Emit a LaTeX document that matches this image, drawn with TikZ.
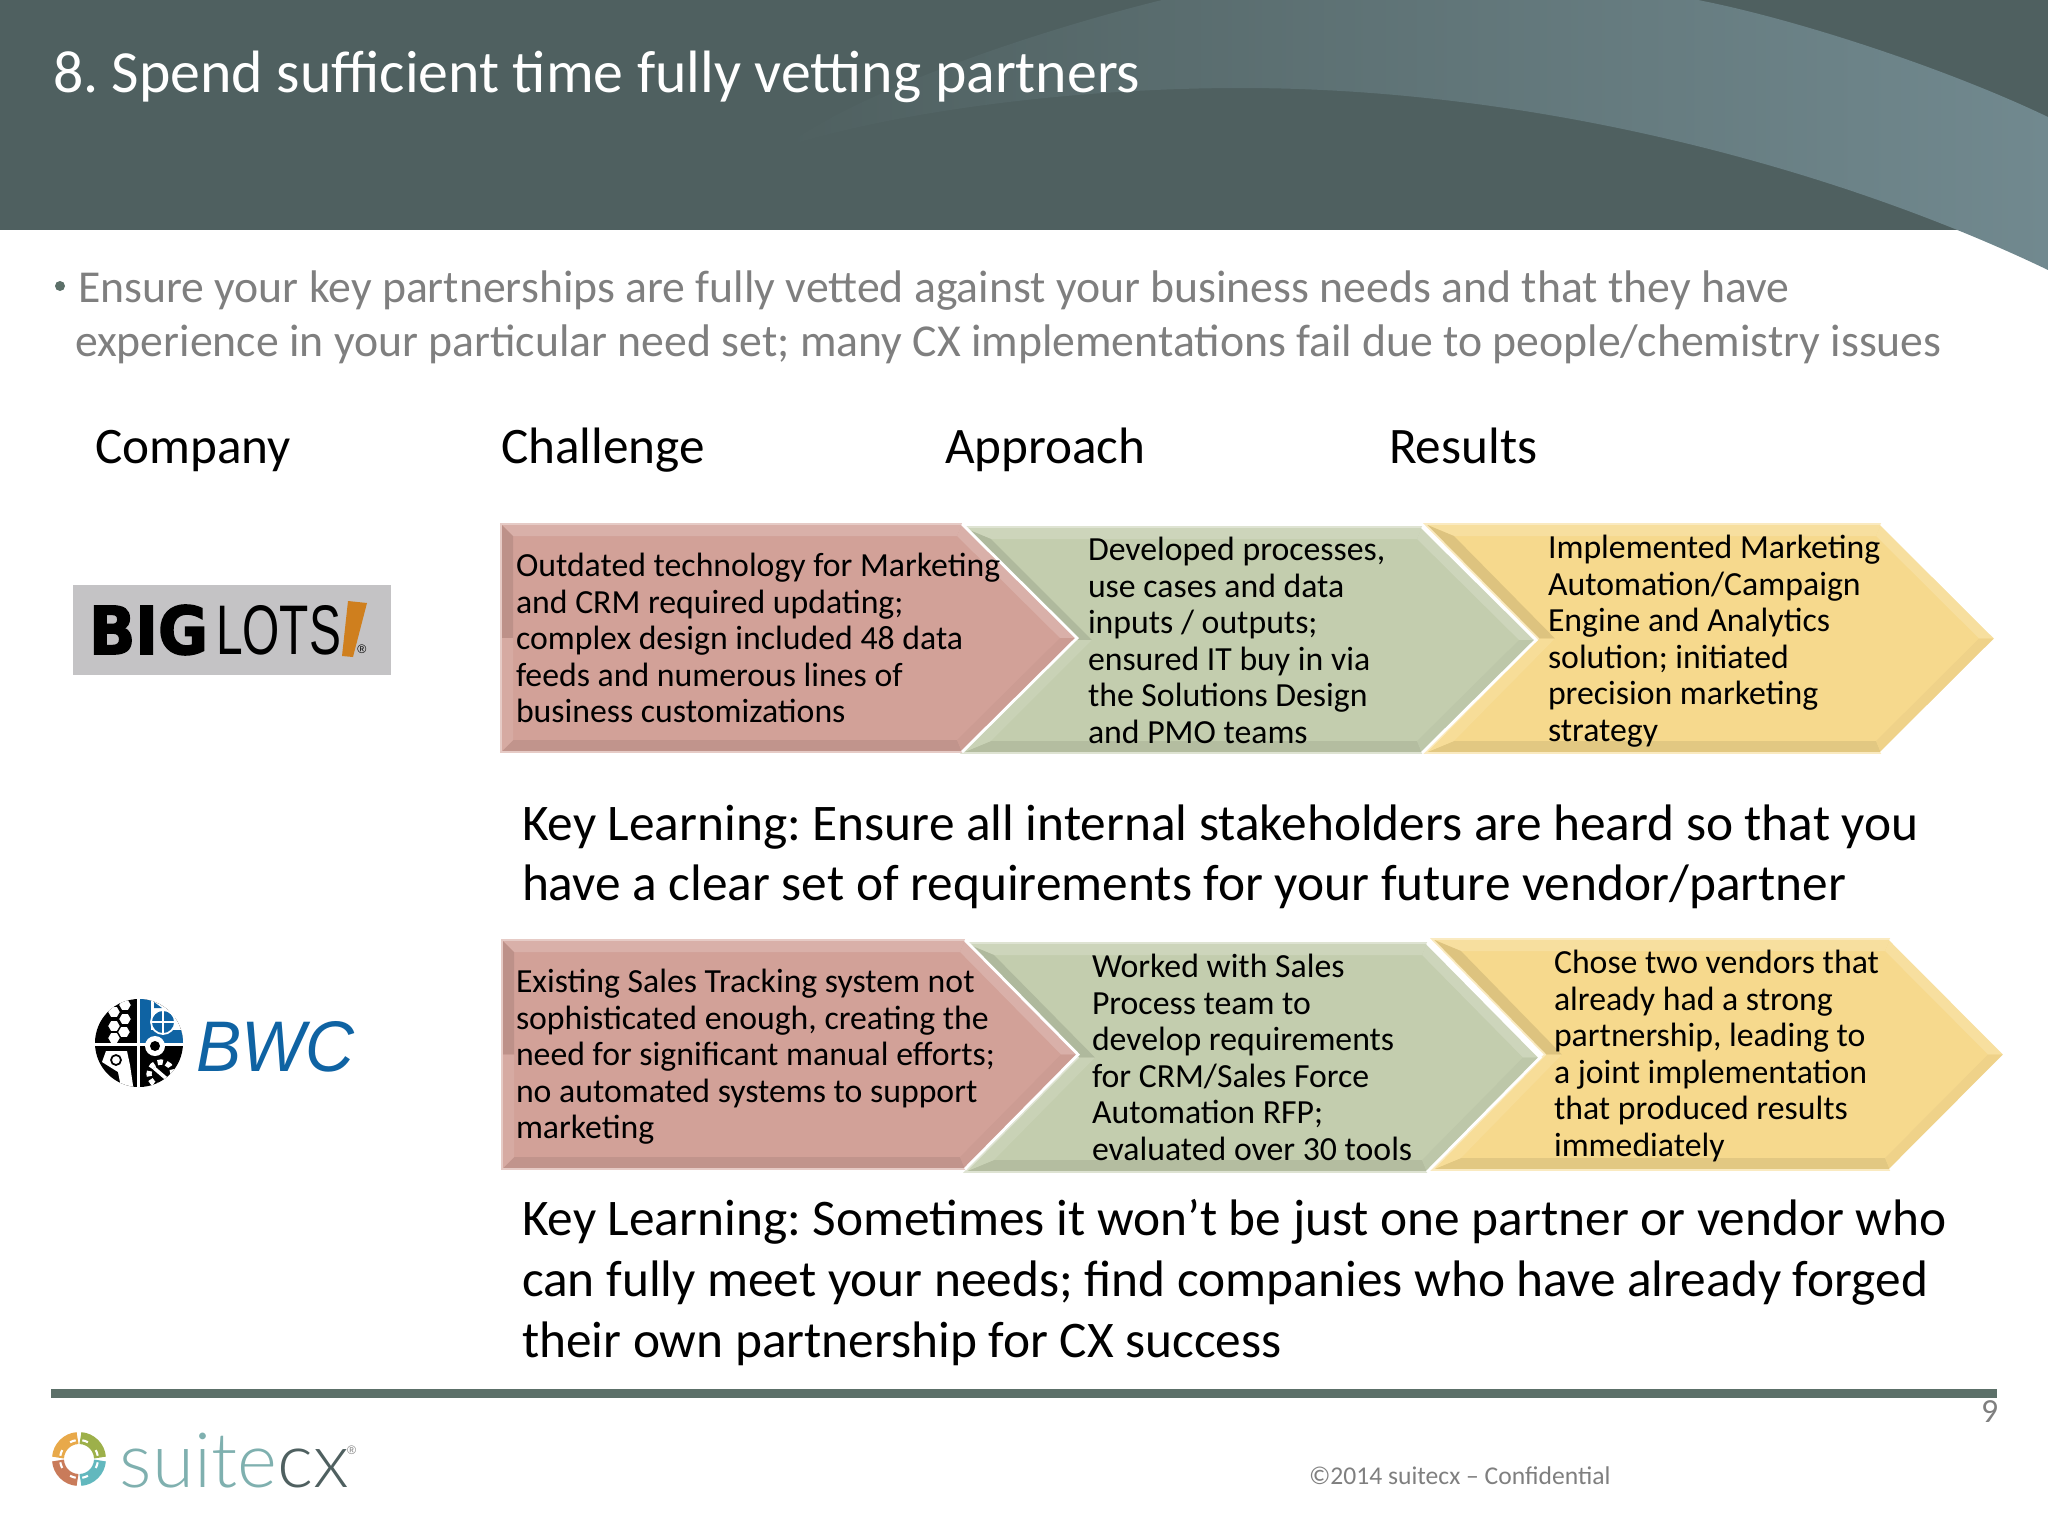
\documentclass[tikz,border=0pt]{standalone}
\usepackage{fontspec}
\usepackage{graphicx}
\setmainfont{Carlito}
\newfontfamily\heavyfont[BoldFeatures={FakeBold=2.5}]{DejaVu Sans}
\newfontfamily\plainfont{Liberation Sans}
\newfontfamily\logofont{Lato Light}
\usetikzlibrary{positioning}
\frenchspacing
\definecolor{headdark}{HTML}{4F6060}
\definecolor{headlight}{HTML}{71898F}
\definecolor{rulegreen}{HTML}{5C7069}
\definecolor{redbox}{HTML}{D2A198}
\definecolor{greenbox}{HTML}{C3CDAE}
\definecolor{yellowbox}{HTML}{F6D98D}
\definecolor{greytext}{HTML}{7F7F7F}
\definecolor{bwcblue}{HTML}{0F63A3}
\definecolor{lotsgrey}{HTML}{C4C3C5}
\definecolor{lotsorange}{HTML}{CF7F1E}
\definecolor{suiteteal}{HTML}{7FB0AF}
\tikzset{
  plain/.style={inner sep=0,outer sep=0,anchor=north west},
  baseplain/.style={inner sep=0,outer sep=0,anchor=base west},
  slidetitle/.style={baseplain,text=white,font=\fontsize{17}{20}\selectfont},
  bullettext/.style={baseplain,text=greytext,font=\fontsize{13}{15}\selectfont},
  colhead/.style={baseplain,text=black,font=\fontsize{14.56}{17}\selectfont},
  boxtext/.style={plain,align=left,text=black,font=\fontsize{9.6}{10.4}\selectfont},
  keytext/.style={plain,align=left,text=black,font=\fontsize{14.6}{17.1}\selectfont},
  foottext/.style={plain,text=greytext,font=\fontsize{7.28}{8}\selectfont}
}
\newcommand{\chevronbox}[7]{%
  \pgfmathsetmacro{\ymid}{(#5+#6)/2}
  \fill[#7] (#1,#5) -- (#3,#5) -- (#4,\ymid) -- (#3,#6) -- (#1,#6) -- (#2,\ymid) -- cycle;
  \pgfmathsetmacro{\bev}{12}
  \pgfmathsetmacro{\inl}{#2>#1 ? #1+2.41*\bev : #1+\bev}
  \pgfmathsetmacro{\inn}{#2>#1 ? #2+1.41*\bev : #1+\bev}
  \pgfmathsetmacro{\ins}{#3-0.41*\bev}
  \pgfmathsetmacro{\inq}{#4-1.41*\bev}
  \fill[#7!84!white] (#1,#5) -- (#3,#5) -- (\ins,#5+\bev) -- (\inl,#5+\bev) -- cycle;
  \fill[#7!92!black] (#1,#6) -- (#3,#6) -- (\ins,#6-\bev) -- (\inl,#6-\bev) -- cycle;
  \fill[#7!90!black] (#1,#5) -- (#2,\ymid) -- (\inn,\ymid) -- (\inl,#5+\bev) -- cycle;
  \fill[#7!90!white] (#1,#6) -- (#2,\ymid) -- (\inn,\ymid) -- (\inl,#6-\bev) -- cycle;
  \fill[#7!84!white] (#3,#5) -- (#4,\ymid) -- (\inq,\ymid) -- (\ins,#5+\bev) -- cycle;
  \fill[#7!97!black] (#3,#6) -- (#4,\ymid) -- (\inq,\ymid) -- (\ins,#6-\bev) -- cycle;
  \draw[#7!55!white,line width=0.5pt] (#3,#6) -- (#1,#6) -- (#2,\ymid) -- (#1,#5) -- (#3,#5);
  \draw[white,line width=0.8pt] (#3,#5) -- (#4,\ymid) -- (#3,#6);
}
\begin{document}
\begin{tikzpicture}[x=0.01cm,y=-0.01cm]
\useasboundingbox (0,0) rectangle (2048,1536);

\fill[headdark] (0,0) rectangle (2048,230);
\shade[left color=headdark,right color=headlight]
(784,147) .. controls (860,90) and (1040,30) .. (1162,0) -- (1698,0)
.. controls (1800,20) and (1950,70) .. (2048,117) -- (2048,270)
.. controls (1840,170) and (1540,88) .. (1241,88)
.. controls (1080,88) and (900,110) .. (784,147) -- cycle;

\node (title) [slidetitle] at (53,92) {8. Spend sufficient time fully vetting partners};
\fill[rulegreen] (60,286) circle (5);
\node (bulletone) [bullettext] at (78,302) {Ensure your key partnerships are fully vetted against your business needs and that they have};
\node (bullettwo) [bullettext] at (75,356) {experience in your particular need set; many CX implementations fail due to people/chemistry issues};

\node (company) [colhead] at (95,463) {Company};
\node (challenge) [colhead] at (501,463) {Challenge};
\node (approach) [colhead] at (945,463) {Approach};
\node (results) [colhead] at (1389,463) {Results};

\chevronbox{1425}{1538}{1881}{1996}{524}{753}{yellowbox}
\chevronbox{962}{1075}{1422}{1536}{527}{753}{greenbox}
\chevronbox{501}{501}{962}{1077}{524}{752}{redbox}
\chevronbox{1432}{1545}{1890}{2005}{939}{1170}{yellowbox}
\chevronbox{965}{1078}{1427}{1540}{943}{1172}{greenbox}
\chevronbox{502}{502}{965}{1078}{940}{1169}{redbox}

\node (redone) [boxtext] at (516,553) {Outdated technology for Marketing\\and CRM required updating;\\complex design included 48 data\\feeds and numerous lines of\\business customizations};
\node (greenone) [boxtext] at (1088,537) {Developed processes,\\use cases and data\\inputs / outputs;\\ensured IT buy in via\\the Solutions Design\\and PMO teams};
\node (yellowone) [boxtext] at (1548,535) {Implemented Marketing\\Automation/Campaign\\Engine and Analytics\\solution; initiated\\precision marketing\\strategy};
\node (redtwo) [boxtext] at (516,969) {Existing Sales Tracking system not\\sophisticated enough, creating the\\need for significant manual efforts;\\no automated systems to support\\marketing};
\node (greentwo) [boxtext] at (1092,954) {Worked with Sales\\Process team to\\develop requirements\\for CRM/Sales Force\\Automation RFP;\\evaluated over 30 tools};
\node (yellowtwo) [boxtext] at (1554,950) {Chose two vendors that\\already had a strong\\partnership, leading to\\a joint implementation\\that produced results\\immediately};

\node (keyone) [keytext] at (522,805) {Key Learning: Ensure all internal stakeholders are heard so that you\\have a clear set of requirements for your future vendor/partner};
\node (keytwo) [keytext,font=\fontsize{14.6}{17.4}\selectfont] at (522,1199) {Key Learning: Sometimes it won’t be just one partner or vendor who\\can fully meet your needs; find companies who have already forged\\their own partnership for CX success};

\fill[lotsgrey] (73,585) rectangle (391,675);
\node (big) [plain] at (89,605) {\resizebox{1.19cm}{0.49cm}{\heavyfont\bfseries BIG}};
\node (lots) [plain,right=0.08cm of big] {\resizebox{1.25cm}{0.49cm}{\plainfont LOTS}};
\fill[lotsorange] (342,656) -- (353,657) -- (367,603) -- (348,601) -- cycle;
\node (regmark) [plain,anchor=center,font=\fontsize{3.5}{4}\selectfont] at (362,649) {\plainfont ®};

\begin{scope}
\clip (139,1043) circle (44);
\fill[black] (90,995) rectangle (190,1092);
\fill[white] (137,995) rectangle (190,1045);
\fill[bwcblue] (140,995) rectangle (151,1043);
\fill[bwcblue] (151,1030) rectangle (190,1043);
\foreach \hx/\hy in {125/1005,114/1012,125/1019,114/1026,124/1032,114/1038}
  \draw[black,fill=white,line width=0.3pt] (\hx,\hy) ++(0:6.5) -- ++(120:6.5) -- ++(180:6.5) -- ++(240:6.5) -- ++(300:6.5) -- ++(0:6.5) -- cycle;
\fill[white] (90,1043) rectangle (190,1046);
\fill[white] (137,995) rectangle (140,1092);
\fill[white] (102,1062) -- (106,1051) -- (127,1051) -- (130,1065) -- (134,1092) -- (122,1092) -- (118,1072) -- cycle;
\draw[black,line width=0.5pt] (116,1060) circle (5);
\fill[white] (155,1046) circle (10);
\fill[black] (155,1046) circle (5);
\draw[white,line width=1.5pt,dash pattern=on 1.5pt off 1pt] (161,1074) circle (12);
\draw[white,line width=1pt] (154,1068) -- (168,1080);
\end{scope}
\fill[bwcblue,draw=white,line width=0.5pt] (163,1022) circle (12);
\draw[white,line width=0.3pt] (151,1022) -- (175,1022) (163,1010) -- (163,1034);
\fill[bwcblue] (154,1002) -- (162,1008) -- (154,1008) -- cycle;
\node (bwc) [plain] at (196,1021) {\resizebox{1.58cm}{0.50cm}{\plainfont\itshape\textcolor{bwcblue}{BWC}}};

\fill[rulegreen] (51,1389) rectangle (1997,1398);
\node (pagenum) [plain,text=greytext,font=\fontsize{9.6}{12}\selectfont] at (1981,1401) {9};
\node (footer) [foottext] at (1309,1467) {©2014 suitecx – Confidential};

\foreach \ang/\col in {184/E8A94A,274/9DB04A,4/62B8BE,94/C97B5A}{
  \definecolor{ringcol}{HTML}{\col}
  \draw[ringcol,line width=3.4pt] (79,1459) ++(\ang:21) arc[start angle=\ang,end angle=\ang+82,radius=21];
  \draw[white,line width=0.6pt] (79,1459) ++(\ang+6:19) arc[start angle=\ang+6,end angle=\ang+24,radius=19];
  \draw[white,line width=0.6pt] (79,1459) ++(\ang+58:19) arc[start angle=\ang+58,end angle=\ang+76,radius=19];
}
\node (suite) [baseplain,text=suiteteal,font=\logofont\fontsize{21.7}{24}\selectfont] at (120,1487) {suite};
\node (cx) [baseplain,right=0cm of suite.base east,anchor=base west,text=headdark,font=\logofont\fontsize{21.7}{24}\selectfont] {cx};
\node (regtwo) [plain,text=greytext,font=\plainfont\fontsize{3.5}{4}\selectfont] at (347,1446) {®};

\end{tikzpicture}
\end{document}
